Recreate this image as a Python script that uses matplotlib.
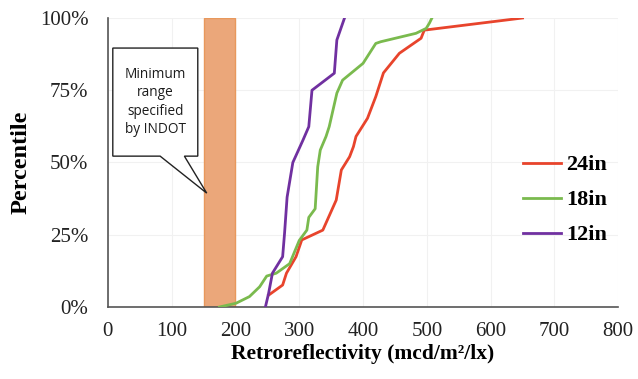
import matplotlib
matplotlib.use("Agg")
import matplotlib.pyplot as plt
from matplotlib.patches import Rectangle, Polygon
from matplotlib.ticker import FuncFormatter

# Cumulative distributions of measured retroreflectivity by sign size
ret_24 = [252, 274, 280, 295, 304, 337, 358, 366, 379, 385, 389, 407, 420, 432, 457, 491, 496, 650]
pct_24 = [4.1, 7.6, 11.7, 17.4, 23.2, 26.6, 37, 47.4, 52, 55.5, 59, 65.3, 72.8, 81, 87.8, 93, 95.8, 100]

ret_18 = [175, 201, 222, 238, 249, 264, 285, 300, 312, 315, 325, 329, 333, 342, 347, 359, 368, 400, 420, 428, 483, 499, 504, 508]
pct_18 = [0, 1.3, 3.6, 7, 10.7, 11.7, 15, 23, 26.6, 31, 34, 48.5, 54.3, 59, 62.4, 74, 78.5, 84.3, 91.2, 91.8, 94.7, 96.4, 98.2, 100]

ret_12 = [247, 252, 258, 274, 277, 281, 290, 306, 315, 320, 355, 359, 371]
pct_12 = [0, 4.7, 11.7, 17.4, 25.5, 38, 50, 57.8, 62.4, 75, 80.9, 92.4, 100]

series_labels = ["24in", "18in", "12in"]
series_colors = ["#e8442c", "#7aba4e", "#7030a0"]

# INDOT minimum retroreflectivity range
indot_min = [150, 200]

x_ticks = [0, 100, 200, 300, 400, 500, 600, 700, 800]
y_ticks = [0, 25, 50, 75, 100]

fig = plt.figure(figsize=(6.38, 3.79), dpi=100)
ax = fig.add_axes([0.169, 0.19, 0.8, 0.7625])

serif = "Liberation Serif"

ax.add_patch(Rectangle((indot_min[0], 0), indot_min[1] - indot_min[0], 100,
                       facecolor="#eba77a", edgecolor="#e8985c", lw=1.0, zorder=2))

for xs, ys, lab, col in zip([ret_24, ret_18, ret_12], [pct_24, pct_18, pct_12],
                            series_labels, series_colors):
    ax.plot(xs, ys, color=col, lw=2.0, label=lab, zorder=3, solid_joinstyle="round")

ax.set_xlim(0, 800)
ax.set_ylim(0, 100)
ax.set_xticks(x_ticks)
ax.set_yticks(y_ticks)
ax.yaxis.set_major_formatter(FuncFormatter(lambda v, p: f"{int(v)}%"))
ax.tick_params(length=0, labelsize=15)
ax.tick_params(axis="x", pad=11)
ax.tick_params(axis="y", pad=14)
for t in ax.get_xticklabels() + ax.get_yticklabels():
    t.set_fontfamily(serif)
    t.set_color("#222222")

ax.grid(True, color="#f1f1f1", lw=0.8, zorder=0)
for s in ["top", "right"]:
    ax.spines[s].set_visible(False)
for s in ["left", "bottom"]:
    ax.spines[s].set_color("#555555")
    ax.spines[s].set_linewidth(1.2)

ax.set_xlabel("Retroreflectivity (mcd/m²/lx)", fontfamily=serif,
              fontweight="bold", fontsize=15.5, labelpad=2)
ax.set_ylabel("Percentile", fontfamily=serif, fontweight="bold", fontsize=17.5, labelpad=6)

# Callout box with pointer toward the INDOT range
callout = Polygon([(7.8, 89.6), (141, 89.6), (141, 52.2), (120, 52.2), (155, 39.4),
                   (82, 52.2), (7.8, 52.2)], closed=True,
                  facecolor="white", edgecolor="#222222", lw=1.0, zorder=4)
ax.add_patch(callout)
ax.text(74.5, 71, "Minimum\nrange\nspecified\nby INDOT", ha="center", va="center",
        fontfamily="Open Sans", fontsize=9.8, color="#1c1c1c", linespacing=1.32, zorder=5)

leg = ax.legend(loc="center left", bbox_to_anchor=(0.814, 0.37), frameon=False,
                borderpad=0, borderaxespad=0,
                handlelength=1.7, handletextpad=0.25, labelspacing=0.65,
                prop={"family": serif, "weight": "bold", "size": 16})

fig.savefig("out.png", dpi=100)
